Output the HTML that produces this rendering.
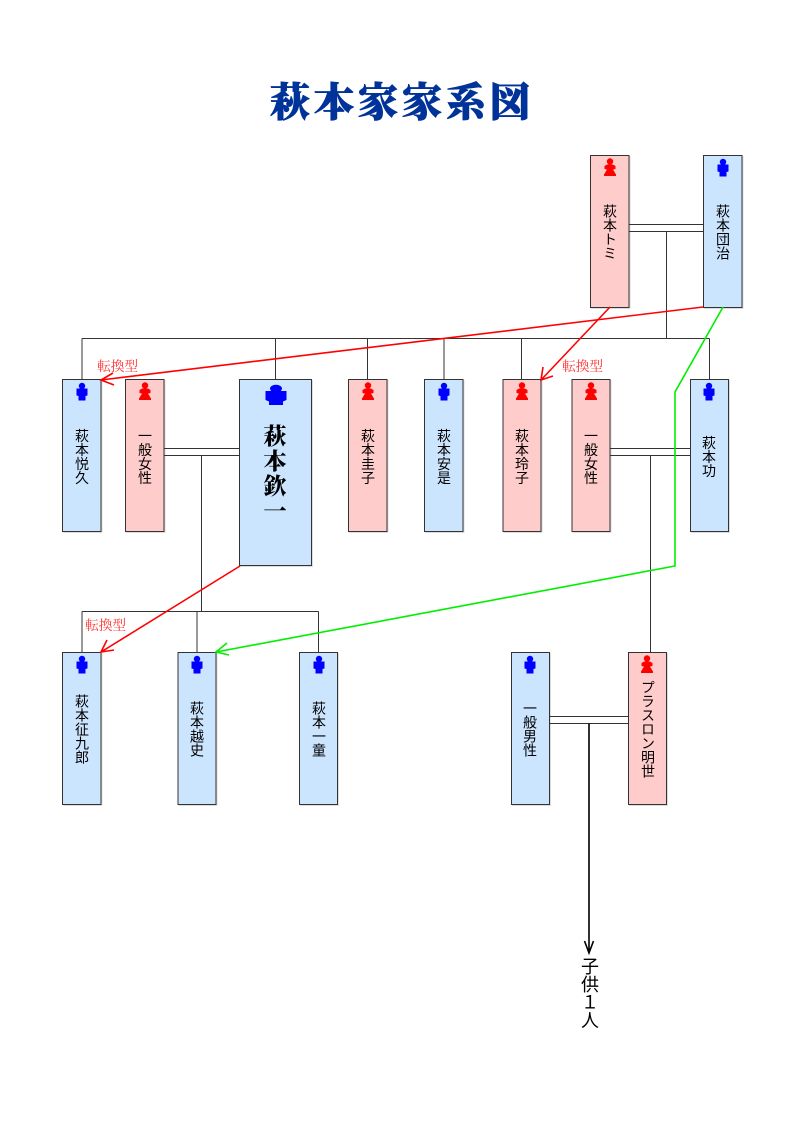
<!DOCTYPE html>
<html lang="ja">
<head>
<meta charset="utf-8">
<title>萩本家家系図</title>
<style>
html,body{margin:0;padding:0;background:#fff;}
svg{display:block;}
.b{stroke:#333;stroke-width:1;filter:drop-shadow(1px 1px 0 #ddd);}
.p{fill:#FFCCCC;}
.m{fill:#CCE5FF;}
.l{stroke:#333;stroke-width:1;fill:none;}
.t{font-family:"Liberation Sans","Noto Sans CJK JP",sans-serif;font-size:14px;writing-mode:vertical-rl;text-anchor:middle;fill:#000;text-orientation:upright;}
.big{font-family:"Liberation Serif","Noto Serif CJK JP","Noto Serif CJK SC",serif;font-size:23px;letter-spacing:2px;font-weight:900;writing-mode:vertical-rl;text-anchor:middle;fill:#000;}
.c{font-family:"Liberation Sans","Noto Sans CJK JP",sans-serif;font-size:18px;writing-mode:vertical-rl;text-anchor:middle;fill:#000;}
.r{font-family:"Liberation Serif","Noto Serif CJK JP","Noto Serif CJK SC",serif;font-size:13.7px;fill:#f33;}
.h{font-family:"Liberation Serif","Noto Serif CJK JP","Noto Serif CJK SC",serif;font-size:40px;font-weight:900;fill:#003399;stroke:#003399;stroke-width:.8px;text-anchor:middle;letter-spacing:4px;}
</style>
</head>
<body>
<svg width="800" height="1132" viewBox="0 0 800 1132" xmlns="http://www.w3.org/2000/svg">
<defs>
<g id="f" fill="#f00"><circle cx="0" cy="-6.5" r="3.2"/><path d="M-2.8,-3.5H2.8L5.5,-2V1L3,1.5L6,6.5V8H-6V6.5L-3,1.5L-5.5,1V-2Z"/></g>
<g id="o" fill="#00f"><circle cx="0" cy="-6" r="3.2"/><path d="M-5.5,-3.5H5.5V3.5L3.5,4V8.5H-3.5V4L-5.5,3.5Z"/></g>
<g id="O" fill="#00f"><ellipse cx="0" cy="-6.5" rx="6" ry="3.8"/><path d="M-10.5,-4H10.5V5L7,6.5V10H-7V6.5L-10.5,5Z"/></g>
</defs>

<text class="h" x="402" y="116">萩本家家系図</text>

<!-- boxes -->
<rect class="b p" x="590.5" y="155.5" width="38.5" height="152"/>
<rect class="b m" x="703.5" y="155.5" width="38.5" height="152"/>
<rect class="b m" x="62.5" y="379.5" width="38.5" height="152"/>
<rect class="b p" x="125.5" y="379.5" width="38.5" height="152"/>
<rect class="b m" x="239.5" y="379.5" width="72" height="186"/>
<rect class="b p" x="348.5" y="379.5" width="38.5" height="152"/>
<rect class="b m" x="424.5" y="379.5" width="38.5" height="152"/>
<rect class="b p" x="503" y="379.5" width="38" height="152"/>
<rect class="b p" x="572" y="379.5" width="38" height="152"/>
<rect class="b m" x="690.5" y="379.5" width="38" height="152"/>
<rect class="b m" x="62.5" y="652.5" width="38.5" height="152"/>
<rect class="b m" x="178" y="652.5" width="38" height="152"/>
<rect class="b m" x="299.5" y="652.5" width="38" height="152"/>
<rect class="b m" x="511.5" y="652.5" width="38" height="152"/>
<rect class="b p" x="628.5" y="652.5" width="38" height="152"/>

<!-- connectors -->
<path class="l" d="M629,224.5H703.5M629,231.5H703.5M666.5,231.5V338.5M82,338.5H709.5M82,338.5V379.5M275.5,338.5V379.5M367.5,338.5V379.5M444,338.5V379.5M521.5,338.5V379.5M709.5,338.5V379.5"/>
<path class="l" d="M164,448.5H239.5M164,455.5H239.5M201.5,455.5V611.5M82,611.5H318.5M82,611.5V652M197,611.5V652M318.5,611.5V652"/>
<path class="l" d="M610,448.5H690.5M610,455.5H690.5M650.5,455.5V652"/>
<path class="l" d="M549.5,716.5H628.5M549.5,723.5H628.5"/>
<path d="M589,723.5V952M584.5,941L589,953L593.5,941" fill="none" stroke="#000" stroke-width="1.6"/>

<!-- icons -->
<use href="#f" x="610" y="168"/>
<use href="#o" x="723" y="168"/>
<use href="#o" x="82" y="392"/>
<use href="#f" x="145" y="392"/>
<use href="#O" x="276" y="395"/>
<use href="#f" x="368" y="392"/>
<use href="#o" x="444" y="392"/>
<use href="#f" x="522" y="392"/>
<use href="#f" x="591" y="392"/>
<use href="#o" x="709" y="392"/>
<use href="#o" x="82" y="665"/>
<use href="#o" x="197" y="665"/>
<use href="#o" x="319" y="665"/>
<use href="#o" x="530" y="665"/>
<use href="#f" x="647" y="665"/>

<!-- names -->
<text class="t" x="610" y="232">萩本トミ</text>
<text class="t" x="723" y="232">萩本団治</text>
<text class="t" x="82" y="456.5">萩本悦久</text>
<text class="t" x="145" y="456.5">一般女性</text>
<text class="big" x="273" y="474">萩本欽一</text>
<text class="t" x="368" y="456.5">萩本圭子</text>
<text class="t" x="444" y="456.5">萩本安是</text>
<text class="t" x="522" y="456.5">萩本玲子</text>
<text class="t" x="591" y="456.5">一般女性</text>
<text class="t" x="709" y="456.5">萩本功</text>
<text class="t" x="82" y="729">萩本征九郎</text>
<text class="t" x="197" y="729">萩本越史</text>
<text class="t" x="319" y="729">萩本一童</text>
<text class="t" x="530" y="729">一般男性</text>
<text class="t" x="648" y="729">プラスロン明世</text>
<text class="c" x="589" y="993">子供１人</text>

<!-- red / green arrows -->
<g fill="none" stroke-width="1.6">
<path stroke="#f00" d="M703,307L101,380M113,373L101,380L114,385"/>
<path stroke="#f00" d="M610,307L541,380M543,367L541,380L553,376"/>
<path stroke="#f00" d="M240,566L101,652M107,640L101,652L114,650"/>
<path stroke="#0e0" d="M723,307L675,392V566L216,652M227,643L216,652L229,655"/>
</g>

<text class="r" x="97" y="371">転換型</text>
<text class="r" x="562" y="371">転換型</text>
<text class="r" x="85" y="630">転換型</text>
</svg>
</body>
</html>
